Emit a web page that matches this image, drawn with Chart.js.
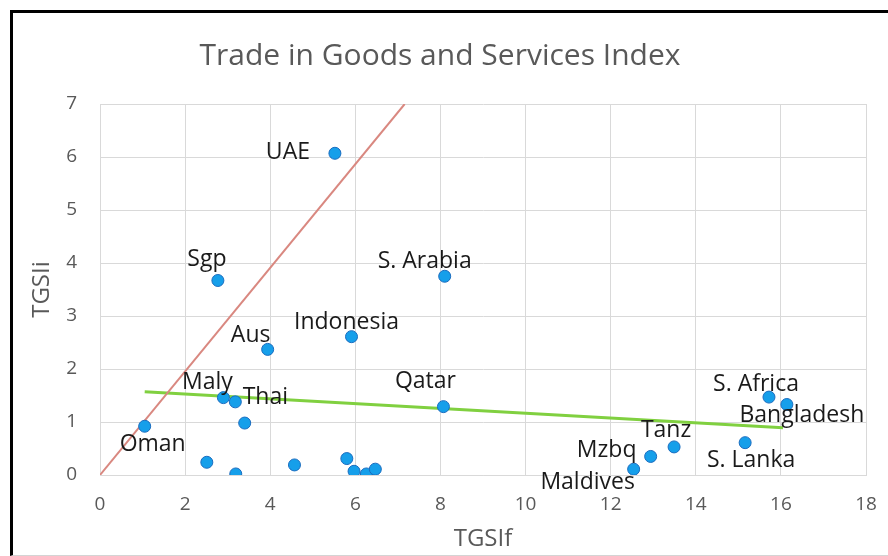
<!DOCTYPE html>
<html>
<head>
<meta charset="utf-8">
<script src="https://cdn.jsdelivr.net/npm/chart.js@4.4.1/dist/chart.umd.min.js"></script>
<style>
  html, body { margin: 0; padding: 0; background: #ffffff; width: 888px; height: 556px; overflow: hidden; }
  #frame { position: absolute; left: 10px; top: 10px; width: 900px; height: 542px;
           border-left: 3px solid #000; border-top: 3px solid #000; border-bottom: 1px solid #d4d4d4; }
  #wrap { position: absolute; left: 0; top: 0; width: 888px; height: 556px; }
</style>
</head>
<body>
<div id="frame"></div>
<div id="wrap"><canvas id="c" width="888" height="556"></canvas></div>
<script>
// ---- data ----
const countries = ['UAE', 'Sgp', 'S. Arabia', 'Aus', 'Indonesia', 'Maly', 'Thai', '', 'Oman', 'Qatar',
                   '', '', '', '', '', '', '',
                   'S. Africa', 'Bangladesh', 'S. Lanka', 'Tanz', 'Mzbq', 'Maldives'];
const tgsif = [5.52, 2.77, 8.10, 3.94, 5.91, 2.90, 3.18, 3.40, 1.05, 8.07,
               2.51, 3.19, 4.57, 5.80, 5.97, 6.26, 6.47,
               15.72, 16.14, 15.16, 13.49, 12.94, 12.54];
const tgsii = [6.07, 3.67, 3.75, 2.37, 2.61, 1.46, 1.38, 0.98, 0.92, 1.29,
               0.24, 0.02, 0.19, 0.31, 0.07, 0.02, 0.11,
               1.47, 1.33, 0.61, 0.53, 0.35, 0.11];
const diagX = [0, 7.16];
const diagY = [0, 7];
const trendX = [1.05, 16.05];
const trendY = [1.57, 0.89];
const xTicks = [0, 2, 4, 6, 8, 10, 12, 14, 16, 18];
const yTicks = [0, 1, 2, 3, 4, 5, 6, 7];

// ---- label placement (pixel offsets of label centre from point) ----
const labelOffsets = {
  'UAE': [-47, -1], 'Sgp': [-11, -21], 'S. Arabia': [-20, -15], 'Aus': [-17, -14],
  'Indonesia': [-5, -14], 'Maly': [-16, -15], 'Thai': [30, -4], 'Oman': [8, 18],
  'Qatar': [-18, -25], 'S. Africa': [-13, -13], 'Bangladesh': [15, 11], 'S. Lanka': [6, 18],
  'Tanz': [-8, -16], 'Mzbq': [-44, -6], 'Maldives': [-46, 13]
};

const toXY = (xs, ys) => xs.map((x, i) => ({ x: x, y: ys[i] }));

const pointLabels = {
  id: 'pointLabels',
  afterDatasetsDraw(chart) {
    const meta = chart.getDatasetMeta(0);
    const ctx = chart.ctx;
    ctx.save();
    ctx.font = '23px "Open Sans"';
    ctx.fillStyle = '#1a1a1a';
    ctx.textAlign = 'center';
    ctx.textBaseline = 'middle';
    meta.data.forEach((el, i) => {
      const name = countries[i];
      if (!name) return;
      const off = labelOffsets[name] || [0, -16];
      ctx.fillText(name, el.x + off[0], el.y + off[1]);
    });
    ctx.restore();
  }
};

new Chart(document.getElementById('c'), {
  type: 'scatter',
  data: {
    datasets: [
      {
        label: 'Countries',
        data: toXY(tgsif, tgsii),
        backgroundColor: '#169fea',
        borderColor: '#1a6cbf',
        borderWidth: 1,
        pointRadius: 6,
        pointHoverRadius: 6
      },
      {
        label: 'Diagonal',
        data: toXY(diagX, diagY),
        showLine: true,
        borderColor: '#d98880',
        borderWidth: 2,
        pointRadius: 0
      },
      {
        label: 'Trend',
        data: toXY(trendX, trendY),
        showLine: true,
        borderColor: '#80d040',
        borderWidth: 3,
        pointRadius: 0
      }
    ]
  },
  options: {
    responsive: false,
    animation: false,
    layout: { padding: { left: 14, right: 22, top: 0, bottom: 0 } },
    plugins: {
      legend: { display: false },
      tooltip: { enabled: false },
      title: {
        display: true,
        text: 'Trade in Goods and Services Index',
        color: '#595959',
        font: { family: '"Open Sans"', size: 30, weight: '400', lineHeight: 1.2 },
        padding: { top: 38, bottom: 104 - 38 - 36 }
      }
    },
    scales: {
      x: {
        type: 'linear',
        min: 0, max: 18,
        afterBuildTicks: (s) => { s.ticks = xTicks.map(v => ({ value: v })); },
        afterFit: (s) => { s.height = 81; s.paddingLeft = 0; s.paddingRight = 0; },
        grid: { color: '#d9d9d9', lineWidth: 1, drawTicks: false },
        border: { display: true, color: '#d9d9d9' },
        ticks: { color: '#595959', padding: 18, font: { family: '"Open Sans"', size: 19 } },
        title: { display: true, text: 'TGSIf', color: '#595959',
                 font: { family: '"Open Sans"', size: 24, lineHeight: 1.2 }, padding: { top: 0, bottom: 2 } }
      },
      y: {
        type: 'linear',
        min: 0, max: 7,
        afterBuildTicks: (s) => { s.ticks = yTicks.map(v => ({ value: v })); },
        afterFit: (s) => { s.width = 86; s.paddingTop = 0; s.paddingBottom = 0; },
        grid: { color: '#d9d9d9', lineWidth: 1, drawTicks: false },
        border: { display: true, color: '#d9d9d9' },
        ticks: { color: '#595959', padding: 23, font: { family: '"Open Sans"', size: 19 } },
        title: { display: true, text: 'TGSIi', color: '#595959',
                 font: { family: '"Open Sans"', size: 24, lineHeight: 1.2 }, padding: { top: 14, bottom: 0 } }
      }
    }
  },
  plugins: [pointLabels]
});
</script>
</body>
</html>
